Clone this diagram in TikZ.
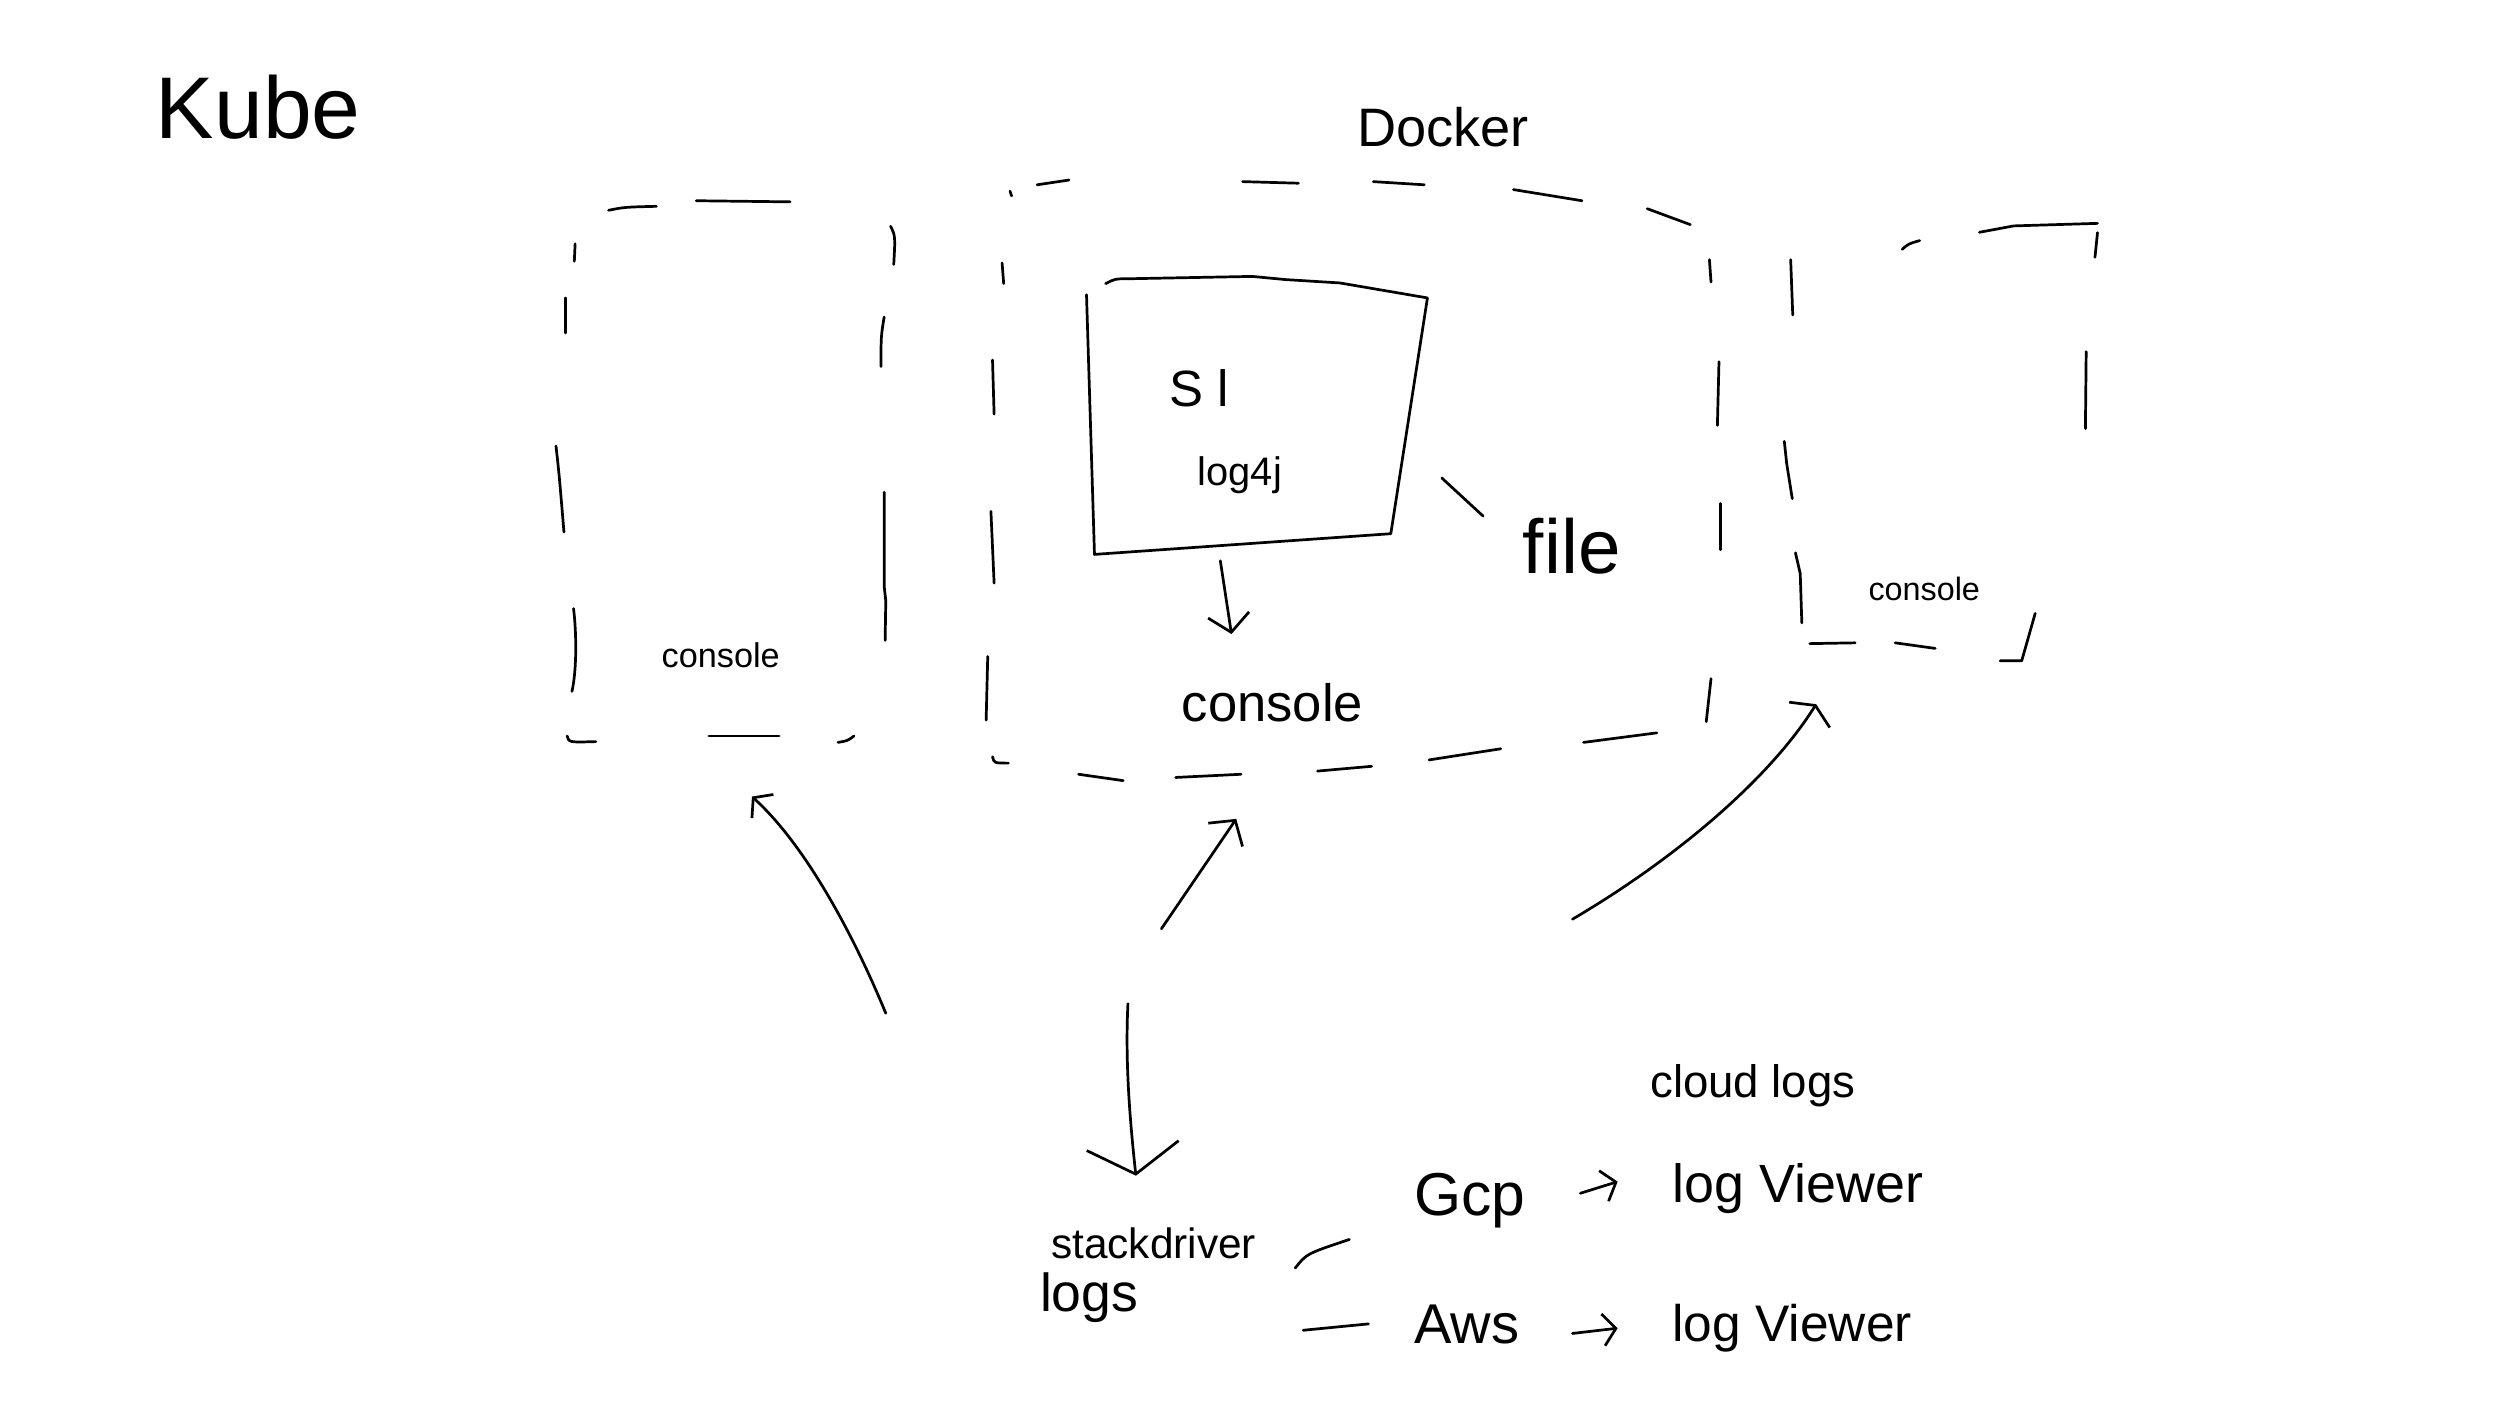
\documentclass[tikz,border=0pt]{standalone}
\usepackage{fontspec}
\setmainfont{Liberation Sans}
\usetikzlibrary{arrows.meta}
\begin{document}
\begin{tikzpicture}[x=1pt,y=-1pt,line width=1.7pt,line cap=round,line join=round,
  lbl/.style={inner sep=0pt,anchor=base west},
  tipS/.style={-{Straight Barb[length=8pt,width=20pt]}},
  tipM/.style={-{Straight Barb[length=11pt,width=26pt]}},
  tipF/.style={-{Straight Barb[length=7pt,width=30pt]}},
  tipL/.style={-{Straight Barb[length=18pt,width=58pt]}},
  fs/.style={font=\fontsize{#1}{#1}\selectfont}]
\useasboundingbox (0,0) rectangle (1568,889);

% ---- titles
\node[lbl,fs=55] (kube) at (97,87) {Kube};
\node[lbl,fs=34] (docker) at (851,92) {Docker};

% ---- left dashed box (Kube pod)
\draw (382,132) .. controls (392,130) .. (412,129.5);
\draw (437,126) -- (496,126.7);
\draw (361,153) -- (360.5,164);
\draw (355,187) -- (355,209);
\draw (349,280) .. controls (351,298) .. (354,334);
\draw (360,382) .. controls (362,398) and (362,421) .. (359,434);
\draw (356,462) .. controls (357,466) .. (374,465.5);
\draw (445,462) -- (489,462);
\draw (526,466) .. controls (532,465) .. (536,462);
\draw (559,142) .. controls (562,148) .. (561,166);
\draw (555,199) .. controls (553,211) .. (553,230);
\draw (555,309) -- (555,368) -- (556,377) -- (555.6,402);
\node[lbl,fs=21.5] (conL) at (414.5,419) {console};

% ---- Docker dashed box
\draw (634,120) -- (635,123);
\draw (651,116) -- (671,113);
\draw (780,114) -- (815,115);
\draw (862,114) -- (894,116);
\draw (950,119) -- (993,126);
\draw (1034,131) -- (1061,141);
\draw (629,165) -- (630,178);
\draw (623,226) -- (624,260);
\draw (622,321) -- (624,366);
\draw (620,412) -- (619,452);
\draw (623,475) .. controls (624,479) .. (633,479);
\draw (677,486) -- (705,490);
\draw (738,488) -- (779,486);
\draw (827,484) -- (861,481);
\draw (897,477) -- (942,470);
\draw (994,466) -- (1040,460);
\draw (1073,163) -- (1074,177);
\draw (1079,227) -- (1078,267);
\draw (1080,316) -- (1080,345);
\draw (1074,426) -- (1071,453);

% ---- application box
\draw (694,178) .. controls (700,175) .. (707,175) -- (786,173.5) -- (807,175.5)
      -- (841,177.6) -- (896,187) -- (873,335) -- (687,348) -- (682,185);
\node[lbl,fs=32] (sl) at (733,255) {S l};
\node[lbl,fs=25] (log4j) at (751,305) {log4j};
\coordinate (appout) at (766,352);
\coordinate (appin) at (773,398);
\node[lbl,fs=33] (conM) at (741,453) {console};
\draw[tipM] (appout) -- (appin);
\coordinate (fileA) at (905,300);
\coordinate (fileB) at (931,324);
\draw (fileA) -- (fileB);
\node[lbl,fs=48] (file) at (955,360) {file};

% ---- right dashed box
\draw (1194,156.5) .. controls (1198,153) .. (1205,151);
\draw (1242.5,145.8) -- (1264,141.8) -- (1316.6,140.2);
\draw (1316.6,146) -- (1315,161.5);
\draw (1309.5,220.7) -- (1309,269);
\draw (1124,163) -- (1125.3,197.7);
\draw (1120,277) -- (1121.5,291) -- (1125,313);
\draw (1127,347) -- (1130,360) -- (1131,391);
\draw (1136,404) -- (1164.5,403.5);
\draw (1189.6,403.5) -- (1214.7,407);
\draw (1255.5,414.8) -- (1269,414.8) -- (1277.5,385);
\node[lbl,fs=20.3] (conR) at (1172,377) {console};

% ---- arrows from stackdriver
\coordinate (sL) at (556,636);
\coordinate (eL) at (472,500);
\draw[tipS] (sL) .. controls (535,585) and (505,530) .. (eL);
\coordinate (sM) at (729,583);
\coordinate (eM) at (776,514);
\draw[tipM] (sM) -- (eM);
\coordinate (sR) at (987,577);
\coordinate (eR) at (1140,442);
\draw[tipF] (sR) .. controls (1050,540) and (1110,490) .. (eR);
\coordinate (sD) at (708,630);
\coordinate (eD) at (713,738);
\node[lbl,fs=26.6] (stack) at (659,790) {stackdriver};
\node[lbl,fs=33.6] (logs) at (652,823) {logs};
\draw[tipL] (sD) .. controls (706,670) and (710,710) .. (eD);

% ---- cloud log viewers
\node[lbl,fs=28.6] (cloud) at (1035,689) {cloud logs};
\draw (813,796) .. controls (820,787) .. (847,778);
\draw (818,835) -- (859,831);
\node[lbl,fs=38] (gcp) at (887,763) {Gcp};
\node[lbl,fs=33.8] (lv1) at (1049,755) {log Viewer};
\coordinate (a1s) at (992,749);
\coordinate (a1e) at (1015.4,741.7);
\draw[tipS] (a1s) -- (a1e);
\node[lbl,fs=35.2] (aws) at (887,843) {Aws};
\node[lbl,fs=32.3] (lv2) at (1049,842) {log Viewer};
\coordinate (a2s) at (987,837);
\coordinate (a2e) at (1015.4,833.7);
\draw[tipS] (a2s) -- (a2e);
\end{tikzpicture}
\end{document}
